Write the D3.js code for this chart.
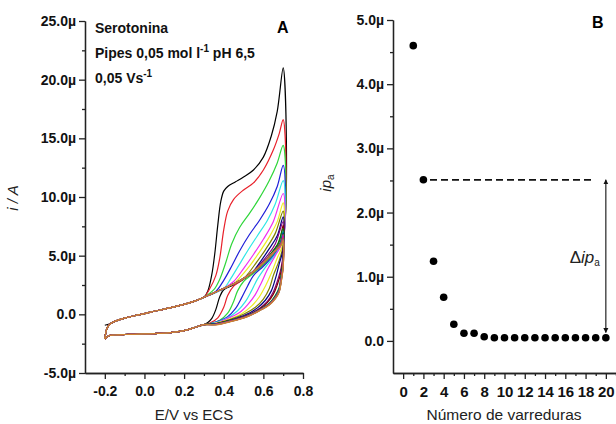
<!DOCTYPE html>
<html>
<head>
<meta charset="utf-8">
<script src="https://cdn.jsdelivr.net/npm/d3@7"></script>
<style>
  body { margin: 0; background: #fff; }
  svg { display: block; font-family: "Liberation Sans", Arial, sans-serif; }
  .axis path, .axis line { stroke: #222; stroke-width: 1.3; }
  .axis text { fill: #111; font-weight: bold; }
  .cv { fill: none; stroke-width: 1.2; }
</style>
</head>
<body>
<svg id="chart" width="616" height="424"></svg>
<script>
/*jshint esversion: 6 */

// ---- panel A : cyclic voltammograms (E in V, i in microampere) ----
const cycleColors = ['#000000', '#e8202a', '#2fd63a', '#1f1fd8', '#2ee6e6', '#f02cf0', '#eeee22',
  '#808000', '#000080', '#800080', '#800000', '#008000', '#008080', '#0000a0',
  '#ff8000', '#8000ff', '#ff0080', '#a06030', '#808080', '#d08030'];

// start of the first scan, start of every later scan
const startFirst = [[-0.20, -0.93]];
const startNext = [[-0.20, -2.10], [-0.195, -1.55], [-0.185, -1.05]];

// common positive-going branch at low potential
const upperBand = [[-0.17, -0.78], [-0.15, -0.6], [-0.10, -0.32], [-0.05, -0.12], [0.00, 0.06],
  [0.05, 0.26], [0.10, 0.44], [0.15, 0.64], [0.20, 0.85], [0.25, 1.1], [0.28, 1.3]];

// common negative-going branch back to -0.2 V
const lowerBand = [[0.30, -0.88], [0.26, -1.08], [0.22, -1.3], [0.18, -1.45], [0.12, -1.58],
  [0.05, -1.64], [0.00, -1.67], [-0.05, -1.7], [-0.10, -1.72], [-0.15, -1.76], [-0.18, -1.82], [-0.20, -2.10]];

// positive-going part above 0.3 V, one list per scan
const anodicSweeps = [
  [[0.30, 1.45], [0.32, 2.0], [0.34, 3.4], [0.355, 5.2], [0.37, 7.6], [0.385, 9.6], [0.40, 10.5], [0.42, 10.9], [0.46, 11.3], [0.50, 11.7], [0.55, 12.3], [0.60, 13.4], [0.64, 15.2], [0.67, 17.3], [0.70, 21.0]],
  [[0.30, 1.45], [0.33, 2.2], [0.36, 3.3], [0.38, 4.8], [0.40, 7.2], [0.42, 8.8], [0.45, 9.8], [0.50, 10.6], [0.55, 11.2], [0.60, 12.3], [0.65, 14.0], [0.68, 15.4], [0.70, 16.6]],
  [[0.30, 1.45], [0.35, 2.1], [0.38, 3.0], [0.41, 4.4], [0.44, 6.0], [0.48, 7.4], [0.53, 8.6], [0.58, 9.9], [0.63, 11.4], [0.67, 12.9], [0.70, 14.4]],
  [[0.30, 1.45], [0.36, 1.95], [0.40, 2.9], [0.44, 4.1], [0.48, 5.4], [0.53, 6.8], [0.58, 8.0], [0.63, 9.4], [0.67, 10.9], [0.70, 12.7]],
  [[0.30, 1.45], [0.40, 2.2], [0.43, 2.9], [0.47, 4.0], [0.52, 5.4], [0.57, 6.7], [0.62, 8.0], [0.66, 9.4], [0.70, 11.4]],
  [[0.30, 1.45], [0.40, 2.2], [0.45, 2.8], [0.50, 3.9], [0.55, 5.1], [0.60, 6.4], [0.65, 7.9], [0.70, 10.3]],
  [[0.30, 1.45], [0.40, 2.2], [0.45, 2.6], [0.48, 3.1], [0.53, 4.1], [0.58, 5.3], [0.63, 6.6], [0.67, 7.9], [0.70, 9.5]],
  [[0.30, 1.45], [0.40, 2.2], [0.45, 2.6], [0.50, 3.05], [0.52, 3.4], [0.56, 4.3], [0.61, 5.5], [0.66, 6.9], [0.70, 8.8]],
  [[0.30, 1.45], [0.40, 2.2], [0.45, 2.6], [0.50, 3.05], [0.55, 3.7], [0.59, 4.6], [0.63, 5.6], [0.67, 6.7], [0.70, 8.3]],
  [[0.30, 1.45], [0.40, 2.2], [0.45, 2.6], [0.50, 3.05], [0.55, 3.65], [0.58, 4.2], [0.62, 5.0], [0.66, 6.0], [0.70, 7.9]],
  [[0.30, 1.45], [0.40, 2.2], [0.45, 2.6], [0.50, 3.05], [0.55, 3.65], [0.60, 4.4], [0.64, 5.2], [0.68, 6.2], [0.70, 7.6]],
  [[0.30, 1.45], [0.40, 2.2], [0.45, 2.6], [0.50, 3.05], [0.55, 3.65], [0.60, 4.4], [0.63, 5.0], [0.67, 5.9], [0.70, 7.3]],
  [[0.30, 1.45], [0.40, 2.2], [0.45, 2.6], [0.50, 3.05], [0.55, 3.65], [0.60, 4.4], [0.65, 5.3], [0.68, 5.9], [0.70, 7.1]],
  [[0.30, 1.45], [0.40, 2.2], [0.45, 2.6], [0.50, 3.05], [0.55, 3.65], [0.60, 4.4], [0.65, 5.25], [0.69, 6.1], [0.70, 6.9]],
  [[0.30, 1.45], [0.40, 2.2], [0.45, 2.6], [0.50, 3.05], [0.55, 3.65], [0.60, 4.4], [0.65, 5.25], [0.69, 6.1], [0.70, 6.8]],
  [[0.30, 1.45], [0.40, 2.2], [0.45, 2.6], [0.50, 3.05], [0.55, 3.65], [0.60, 4.4], [0.65, 5.25], [0.69, 6.05], [0.70, 6.7]],
  [[0.30, 1.45], [0.40, 2.2], [0.45, 2.6], [0.50, 3.05], [0.55, 3.65], [0.60, 4.4], [0.65, 5.25], [0.69, 6.0], [0.70, 6.6]],
  [[0.30, 1.45], [0.40, 2.2], [0.45, 2.6], [0.50, 3.05], [0.55, 3.65], [0.60, 4.4], [0.65, 5.25], [0.69, 6.0], [0.70, 6.5]],
  [[0.30, 1.45], [0.40, 2.2], [0.45, 2.6], [0.50, 3.05], [0.55, 3.65], [0.60, 4.4], [0.65, 5.25], [0.69, 5.95], [0.70, 6.4]],
  [[0.30, 1.45], [0.40, 2.2], [0.45, 2.6], [0.50, 3.05], [0.55, 3.65], [0.60, 4.4], [0.65, 5.25], [0.69, 5.9], [0.70, 6.3]]
];

// negative-going part from the 0.7 V vertex down to 0.33 V, one list per scan
const cathodicSweeps = [
  [[0.70, 21.0], [0.70, 6.8], [0.66, 5.4], [0.60, 4.3], [0.55, 3.6], [0.50, 3.0], [0.45, 2.5], [0.40, 2.1], [0.38, 1.5], [0.36, 0.4], [0.34, -0.35], [0.32, -0.7]],
  [[0.70, 16.6], [0.70, 6.7], [0.66, 5.4], [0.60, 4.3], [0.55, 3.6], [0.50, 3.0], [0.45, 2.4], [0.42, 1.6], [0.40, 0.6], [0.37, -0.3], [0.33, -0.75]],
  [[0.70, 14.4], [0.70, 6.6], [0.66, 5.3], [0.60, 4.2], [0.55, 3.5], [0.50, 2.8], [0.47, 2.0], [0.45, 1.1], [0.42, 0.1], [0.38, -0.5], [0.33, -0.8]],
  [[0.70, 12.7], [0.70, 6.5], [0.66, 5.2], [0.60, 4.1], [0.55, 3.3], [0.52, 2.4], [0.49, 1.4], [0.46, 0.5], [0.42, -0.2], [0.37, -0.6], [0.33, -0.8]],
  [[0.70, 11.4], [0.70, 6.4], [0.66, 5.1], [0.61, 4.0], [0.57, 3.0], [0.54, 2.0], [0.51, 1.1], [0.47, 0.3], [0.42, -0.3], [0.36, -0.7]],
  [[0.70, 10.3], [0.70, 6.3], [0.66, 5.0], [0.62, 3.8], [0.59, 2.7], [0.56, 1.7], [0.52, 0.8], [0.48, 0.15], [0.42, -0.35], [0.36, -0.75]],
  [[0.70, 9.5], [0.70, 6.1], [0.67, 4.8], [0.64, 3.5], [0.61, 2.4], [0.58, 1.5], [0.54, 0.7], [0.49, 0.05], [0.43, -0.4], [0.36, -0.75]],
  [[0.70, 8.8], [0.70, 5.9], [0.68, 4.6], [0.65, 3.3], [0.63, 2.2], [0.60, 1.3], [0.56, 0.6], [0.50, 0.0], [0.43, -0.45], [0.36, -0.8]],
  [[0.70, 8.3], [0.70, 5.6], [0.68, 4.3], [0.66, 3.0], [0.64, 2.0], [0.61, 1.2], [0.57, 0.55], [0.51, -0.05], [0.44, -0.45], [0.36, -0.8]],
  [[0.70, 7.9], [0.70, 5.3], [0.69, 4.0], [0.67, 2.8], [0.65, 1.9], [0.62, 1.1], [0.58, 0.5], [0.52, -0.05], [0.44, -0.5], [0.36, -0.8]],
  [[0.70, 7.6], [0.70, 5.0], [0.69, 3.7], [0.67, 2.5], [0.65, 1.7], [0.62, 1.0], [0.58, 0.45], [0.52, -0.1], [0.44, -0.5], [0.36, -0.8]],
  [[0.70, 7.3], [0.70, 4.7], [0.69, 3.4], [0.68, 2.3], [0.66, 1.6], [0.63, 0.95], [0.58, 0.4], [0.52, -0.1], [0.44, -0.5], [0.36, -0.8]],
  [[0.70, 7.1], [0.70, 4.5], [0.69, 3.2], [0.68, 2.2], [0.66, 1.5], [0.63, 0.9], [0.58, 0.38], [0.52, -0.12], [0.44, -0.52], [0.36, -0.82]],
  [[0.70, 6.9], [0.70, 4.4], [0.69, 3.1], [0.68, 2.1], [0.66, 1.45], [0.63, 0.88], [0.58, 0.36], [0.52, -0.14], [0.44, -0.54], [0.36, -0.84]],
  [[0.70, 6.8], [0.70, 4.3], [0.69, 3.0], [0.68, 2.05], [0.66, 1.42], [0.63, 0.86], [0.58, 0.35], [0.52, -0.15], [0.44, -0.55], [0.36, -0.85]],
  [[0.70, 6.7], [0.70, 4.2], [0.69, 2.95], [0.68, 2.0], [0.66, 1.4], [0.63, 0.85], [0.58, 0.34], [0.52, -0.16], [0.44, -0.56], [0.36, -0.86]],
  [[0.70, 6.6], [0.70, 4.15], [0.69, 2.9], [0.68, 1.98], [0.66, 1.38], [0.63, 0.84], [0.58, 0.33], [0.52, -0.17], [0.44, -0.57], [0.36, -0.87]],
  [[0.70, 6.5], [0.70, 4.1], [0.69, 2.85], [0.68, 1.95], [0.66, 1.36], [0.63, 0.83], [0.58, 0.32], [0.52, -0.18], [0.44, -0.58], [0.36, -0.88]],
  [[0.70, 6.4], [0.70, 4.05], [0.69, 2.8], [0.68, 1.92], [0.66, 1.34], [0.63, 0.82], [0.58, 0.31], [0.52, -0.19], [0.44, -0.59], [0.36, -0.89]],
  [[0.70, 6.3], [0.70, 4.0], [0.69, 2.75], [0.68, 1.9], [0.66, 1.32], [0.63, 0.8], [0.58, 0.3], [0.52, -0.2], [0.44, -0.6], [0.36, -0.9]]
];

const potentialTicks = [-0.2, 0.0, 0.2, 0.4, 0.6, 0.8];
const potentialMinor = [-0.1, 0.1, 0.3, 0.5, 0.7];
const currentTicks = [-5, 0, 5, 10, 15, 20, 25];
const currentMinor = [-2.5, 2.5, 7.5, 12.5, 17.5, 22.5];

// ---- panel B : anodic peak current vs scan number (microampere) ----
const scanNumber = [1, 2, 3, 4, 5, 6, 7, 8, 9, 10, 11, 12, 13, 14, 15, 16, 17, 18, 19, 20];
const ipa = [4.60, 2.51, 1.24, 0.68, 0.26, 0.12, 0.12, 0.065, 0.05, 0.05, 0.05, 0.05, 0.05, 0.05, 0.05, 0.05, 0.05, 0.05, 0.05, 0.05];
const scanTicks = [0, 2, 4, 6, 8, 10, 12, 14, 16, 18, 20];
const scanMinor = [1, 3, 5, 7, 9, 11, 13, 15, 17, 19, 21];
const ipaTicks = [0, 1, 2, 3, 4, 5];
const ipaMinor = [0.5, 1.5, 2.5, 3.5, 4.5];
const deltaLevel = 2.51, deltaBase = 0.13;     // arrow of delta ip_a
const dashFrom = 2.65, dashTo = 18.8;          // dashed guide in scan units

const svg = d3.select('#chart');

function fmtMicro(d) {
  return d === 0 ? '0.0' : d.toFixed(1) + 'µ';
}

function drawAxes(g, x, y, o) {
  let bottom = y.range()[0];
  let left = x.range()[0];

  g.append('g')
    .attr('class', 'axis')
    .attr('transform', 'translate(0,' + bottom + ')')
    .call(d3.axisBottom(x).tickValues(o.xMinor).tickSize(3).tickSizeOuter(0).tickFormat(''));
  g.append('g')
    .attr('class', 'axis')
    .attr('transform', 'translate(' + left + ',0)')
    .call(d3.axisLeft(y).tickValues(o.yMinor).tickSize(3).tickSizeOuter(0).tickFormat(''));

  let ax = g.append('g')
    .attr('class', 'axis')
    .attr('transform', 'translate(0,' + bottom + ')')
    .call(d3.axisBottom(x).tickValues(o.xTicks).tickSize(6).tickSizeOuter(0).tickPadding(7).tickFormat(o.xFormat));
  ax.attr('font-family', null).attr('font-size', o.xFont);

  let ay = g.append('g')
    .attr('class', 'axis')
    .attr('transform', 'translate(' + left + ',0)')
    .call(d3.axisLeft(y).tickValues(o.yTicks).tickSize(6).tickSizeOuter(0).tickPadding(3).tickFormat(fmtMicro));
  ay.attr('font-family', null).attr('font-size', o.yFont);
}

function panelA() {
  let x = d3.scaleLinear().domain([-0.3, 0.8]).range([85, 303]);
  let y = d3.scaleLinear().domain([-5, 25]).range([373, 21]);
  let g = svg.append('g');

  let line = d3.line()
    .x(function(d) { return x(d[0]); })
    .y(function(d) { return y(d[1]); })
    .curve(d3.curveCatmullRom.alpha(0.5));

  for (let k = 0; k < anodicSweeps.length; k++) {
    let start = k === 0 ? startFirst : startNext;
    let pts = start.concat(upperBand, anodicSweeps[k], cathodicSweeps[k].slice(1), lowerBand);
    g.append('path')
      .datum(pts)
      .attr('class', 'cv')
      .attr('stroke', cycleColors[k])
      .attr('d', line);
  }

  drawAxes(g, x, y, {
    xTicks: potentialTicks, xMinor: potentialMinor, yTicks: currentTicks, yMinor: currentMinor,
    xFormat: function(d) { return d === 0 ? '0.0' : d.toFixed(1); },
    xFont: 14, yFont: 14
  });

  // y title
  g.append('text')
    .attr('transform', 'translate(18,198) rotate(-90)')
    .attr('text-anchor', 'middle')
    .attr('font-size', 15)
    .attr('font-style', 'italic')
    .attr('fill', '#222')
    .text('i / A');

  // x title
  g.append('text')
    .attr('x', 194)
    .attr('y', 420)
    .attr('text-anchor', 'middle')
    .attr('font-size', 15)
    .attr('fill', '#222')
    .text('E/V vs ECS');

  // conditions
  let note = g.append('g')
    .attr('font-size', 14)
    .attr('font-weight', 'bold')
    .attr('fill', '#111');
  note.append('text').attr('x', 95).attr('y', 33).text('Serotonina');
  let t2 = note.append('text').attr('x', 95).attr('y', 58);
  t2.append('tspan').text('Pipes 0,05 mol l');
  t2.append('tspan').attr('dy', -6).attr('font-size', 10).text('-1');
  t2.append('tspan').attr('dy', 6).text(' pH 6,5');
  let t3 = note.append('text').attr('x', 95).attr('y', 83);
  t3.append('tspan').text('0,05 Vs');
  t3.append('tspan').attr('dy', -6).attr('font-size', 10).text('-1');

  g.append('text')
    .attr('x', 277)
    .attr('y', 33)
    .attr('font-size', 16)
    .attr('font-weight', 'bold')
    .text('A');
}

function panelB() {
  let x = d3.scaleLinear().domain([-1, 21.1]).range([393, 617]);
  let y = d3.scaleLinear().domain([-0.5, 5]).range([373, 20]);
  let g = svg.append('g');

  drawAxes(g, x, y, {
    xTicks: scanTicks, xMinor: scanMinor, yTicks: ipaTicks, yMinor: ipaMinor,
    xFormat: function(d) { return d; },
    xFont: 15, yFont: 14
  });

  // dashed guide at the second scan level
  g.append('line')
    .attr('x1', x(dashFrom))
    .attr('x2', x(dashTo))
    .attr('y1', y(deltaLevel))
    .attr('y2', y(deltaLevel))
    .attr('stroke', '#111')
    .attr('stroke-width', 1.8)
    .attr('stroke-dasharray', '7,4');

  // double arrow
  let defs = svg.append('defs');
  defs.append('marker')
    .attr('id', 'head')
    .attr('viewBox', '0 0 10 10')
    .attr('refX', 9)
    .attr('refY', 5)
    .attr('markerWidth', 5)
    .attr('markerHeight', 8)
    .attr('markerUnits', 'userSpaceOnUse')
    .attr('orient', 'auto-start-reverse')
    .append('path')
    .attr('d', 'M0,0L10,5L0,10Z')
    .attr('fill', '#111');

  g.append('line')
    .attr('x1', x(20))
    .attr('x2', x(20))
    .attr('y1', y(deltaLevel))
    .attr('y2', y(deltaBase))
    .attr('stroke', '#111')
    .attr('stroke-width', 1.1)
    .attr('marker-start', 'url(#head)')
    .attr('marker-end', 'url(#head)');

  let lab = g.append('text')
    .attr('x', x(20) - 6)
    .attr('y', 263)
    .attr('text-anchor', 'end')
    .attr('font-size', 17)
    .attr('fill', '#222');
  lab.append('tspan').text('Δ');
  lab.append('tspan').attr('font-style', 'italic').text('ip');
  lab.append('tspan').attr('font-size', 10).attr('dy', 3).text('a');

  // points
  g.selectAll('circle')
    .data(scanNumber)
    .enter()
    .append('circle')
    .attr('cx', function(d) { return x(d); })
    .attr('cy', function(d, i) { return y(ipa[i]); })
    .attr('r', 3.8)
    .attr('fill', '#000');

  // titles
  let yt = g.append('text')
    .attr('transform', 'translate(331,183) rotate(-90)')
    .attr('text-anchor', 'middle')
    .attr('font-size', 15)
    .attr('fill', '#222');
  yt.append('tspan').attr('font-style', 'italic').text('ip');
  yt.append('tspan').attr('font-size', 10).attr('dy', 3).text('a');

  g.append('text')
    .attr('x', 504)
    .attr('y', 420)
    .attr('text-anchor', 'middle')
    .attr('font-size', 15.5)
    .attr('fill', '#222')
    .text('Número de varreduras');

  g.append('text')
    .attr('x', 592)
    .attr('y', 28)
    .attr('font-size', 16)
    .attr('font-weight', 'bold')
    .text('B');
}

panelA();
panelB();
</script>
</body>
</html>
